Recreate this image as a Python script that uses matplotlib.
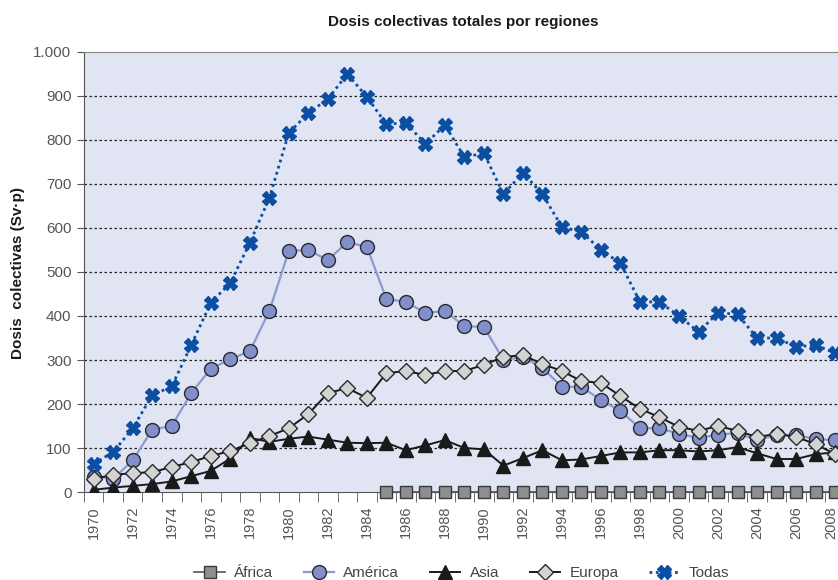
import matplotlib.pyplot as plt
import numpy as np
from matplotlib.ticker import FixedLocator
from matplotlib.transforms import ScaledTranslation

plt.rcParams['font.family'] = ['Liberation Sans', 'DejaVu Sans']

# data (Sv.p)
years = list(range(1970, 2009))

africa_years = list(range(1985, 2009))
africa = [0] * len(africa_years)

america = [35, 30, 72, 142, 150, 225, 280, 302, 320, 411,
           548, 550, 527, 568, 557, 439, 432, 407, 411, 377,
           375, 300, 307, 282, 239, 239, 209, 184, 145, 145,
           132, 123, 130, 134, 118, 130, 130, 120, 118]

asia = [5, 10, 14, 18, 24, 36, 48, 76, 123, 114,
        121, 126, 119, 112, 111, 112, 95, 106, 118, 100,
        97, 60, 77, 95, 72, 74, 82, 90, 90, 95,
        95, 92, 95, 102, 88, 75, 75, 86, 90]

europa = [30, 39, 43, 45, 57, 68, 82, 93, 111, 127,
          145, 177, 225, 236, 214, 270, 275, 266, 275, 275,
          289, 307, 311, 291, 275, 252, 248, 218, 189, 170,
          148, 139, 150, 139, 125, 132, 125, 109, 86]

todas = [64, 91, 145, 220, 240, 334, 430, 475, 566, 668,
         816, 861, 893, 950, 898, 836, 839, 791, 834, 761,
         770, 677, 725, 677, 602, 591, 550, 520, 432, 432,
         400, 364, 407, 404, 350, 350, 330, 334, 316]

x = np.arange(len(years))
xa = np.array([years.index(y) for y in africa_years])

fig = plt.figure(figsize=(8.38, 5.8), dpi=100)
ax = fig.add_axes([0.1002, 0.1517, 0.8998, 0.7587])
ax.set_facecolor('#E1E4F3')

ax.plot(xa, africa, color='#555555', lw=1.2, marker='s', ms=9, mfc='#8E8E8E',
        mec='#3A3A3A', mew=1.0, label='África', clip_on=False, zorder=3)
ax.plot(x, america, color='#8C9AD2', lw=1.6, marker='o', ms=10, mfc='#8190CC',
        mec='#2A2A2A', mew=1.0, label='América', zorder=4)
ax.plot(x, asia, color='#1A1A1A', lw=1.4, marker='^', ms=10, mfc='#1A1A1A',
        mec='#1A1A1A', label='Asia', zorder=4)
ax.plot(x, europa, color='#1A1A1A', lw=1.4, marker='D', ms=8, mfc='#D3D3D3',
        mec='#2A2A2A', mew=1.0, label='Europa', zorder=5)
ax.plot(x, todas, color='#0B4EA2', lw=2.0, ls=(0, (1, 1.3)), marker='X', ms=10,
        mfc='#0B4EA2', mec='#0B4EA2', label='Todas', zorder=6)

ax.set_xlim(-0.5, 38.15)
ax.set_ylim(0, 1000)

# gridlines
for v in range(100, 1000, 100):
    ax.axhline(v, color='#222222', lw=0.9, ls=(0, (2, 2)), zorder=1)

ax.set_yticks(range(0, 1001, 100))
ax.set_yticklabels(['0', '100', '200', '300', '400', '500', '600', '700', '800', '900', '1.000'])
ax.tick_params(axis='y', length=5, color='#555555', labelcolor='#555555', labelsize=11, pad=4)

ax.set_xticks(x[::2])
ax.set_xticklabels([str(y) for y in years[::2]], rotation=90)
ax.xaxis.set_minor_locator(FixedLocator(np.arange(-0.5, 39, 1)))
ax.tick_params(axis='x', which='major', length=0, labelcolor='#555555', labelsize=10.5, pad=10)
ax.tick_params(axis='x', which='minor', length=7, color='#555555')
# last label sits at the right edge, nudge it left a bit
last = ax.get_xticklabels()[-1]
last.set_transform(last.get_transform() + ScaledTranslation(-4 / 100, 0, fig.dpi_scale_trans))

ax.spines['right'].set_visible(False)
ax.spines['left'].set_color('#555555')
ax.spines['bottom'].set_color('#555555')
ax.spines['top'].set_color('#888888')

fig.text(0.553, 0.962, 'Dosis colectivas totales por regiones', ha='center', va='center',
         fontsize=11, fontweight='bold', color='#1A1A1A')
fig.text(0.022, 0.53, 'Dosis  colectivas (Sv·p)', ha='center', va='center', rotation=90,
         fontsize=11, fontweight='bold', color='#1A1A1A')

handles, labels = ax.get_legend_handles_labels()
fig.legend(handles, labels, loc='center', bbox_to_anchor=(0.551, 0.012), ncol=5,
           frameon=False, fontsize=11, handlelength=2.0, handletextpad=0.6,
           columnspacing=2.0, labelcolor='#444444')

fig.savefig('out.png', dpi=100)
